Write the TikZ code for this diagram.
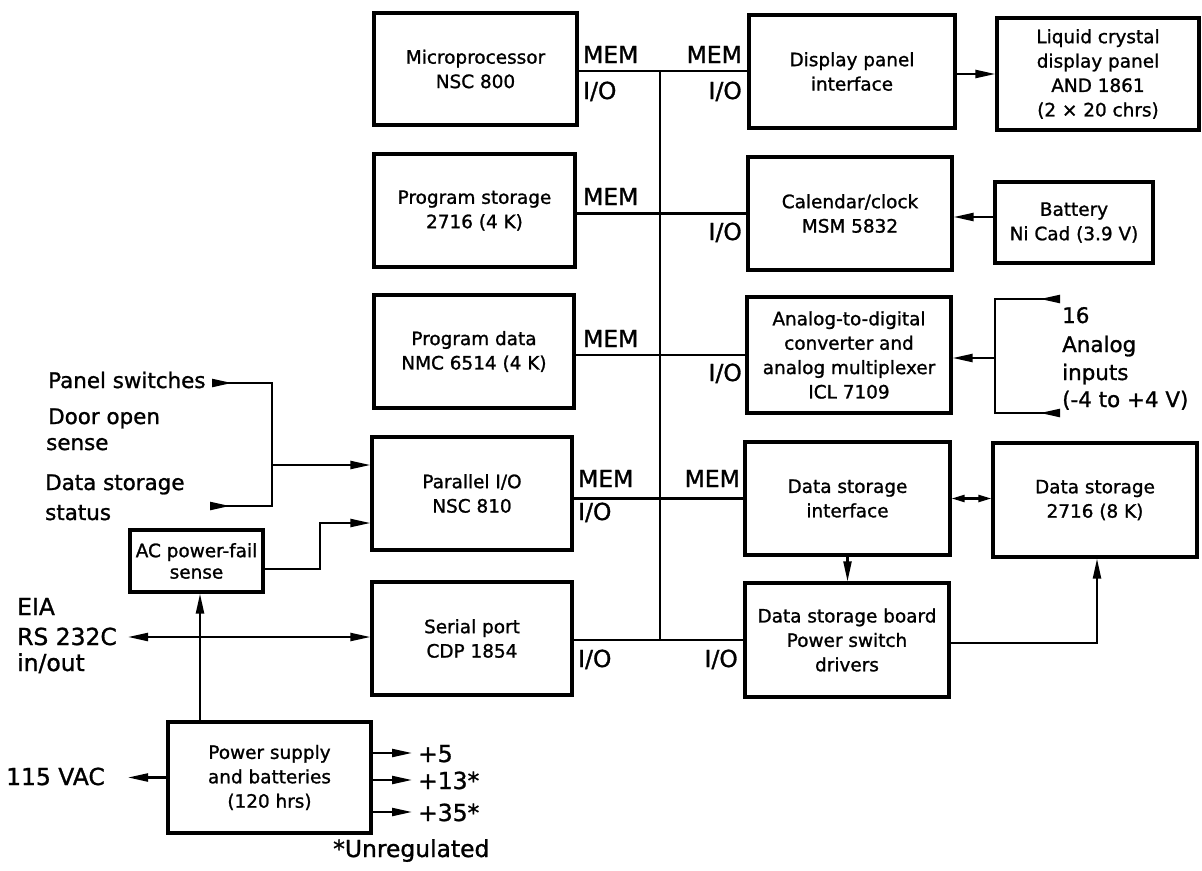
\documentclass[tikz,border=0pt]{standalone}
\usepackage{fontspec}
\setmainfont{DejaVu Sans}[FakeBold=1.2]
\usetikzlibrary{arrows.meta}
\newcommand\boxfont{\fontsize{18.5}{24.5}\selectfont}
\newcommand\labfont{\fontsize{23.5}{26}\selectfont}
\newcommand\bigfont{\fontsize{21.5}{26}\selectfont}
\begin{document}
\begin{tikzpicture}[x=1bp,y=-1bp,
  blk/.style={draw, line width=3.2bp, inner sep=0pt, align=center, font=\boxfont},
  sz/.style 2 args={minimum width=#1bp, minimum height=#2bp},
  wire/.style={line width=2.2bp},
  bus/.style={line width=1.5bp},
  tip/.tip={Triangle[length=20bp,width=8bp]},
  stip/.tip={Triangle[length=13bp,width=7bp]},
  arr/.style={wire, -tip},
  arrr/.style={wire, tip-tip},
  sarrr/.style={wire, stip-stip},
  lab/.style={inner sep=0pt, font=\labfont, anchor=base west},
  labr/.style={inner sep=0pt, font=\labfont, anchor=base east},
  txt/.style={inner sep=0pt, font=\bigfont, anchor=base west}]
\useasboundingbox (0,0) rectangle (1202,871);

% boxes
\node[blk, sz={203}{112}] (mp)  at (475.5,69)   {Microprocessor\\NSC 800};
\node[blk, sz={201}{113}] (ps)  at (474.5,210.5) {Program storage\\2716 (4 K)};
\node[blk, sz={200}{113}] (pd)  at (474,351.5)  {Program data\\NMC 6514 (4 K)};
\node[blk, sz={200}{113}] (pio) at (472,493.5)  {Parallel I/O\\NSC 810};
\node[blk, sz={200}{113}] (sp)  at (472,638.5)  {Serial port\\CDP 1854};
\node[blk, sz={206}{113}] (dpi) at (852,71.5)   {Display panel\\interface};
\node[blk, sz={202}{112}] (lcd) at (1098,74)    {Liquid crystal\\display panel\\AND 1861\\(2 × 20 chrs)};
\node[blk, sz={204}{113}] (cal) at (850,213.5)  {Calendar/clock\\MSM 5832};
\node[blk, sz={158}{81}]  (bat) at (1074,222.5) {Battery\\Ni Cad (3.9 V)};
\node[blk, sz={204}{116}] (adc) at (849,355)    {Analog-to-digital\\converter and\\analog multiplexer\\ICL 7109};
\node[blk, sz={205}{113}] (dsi) at (847.5,498.5) {Data storage\\interface};
\node[blk, sz={204}{114}] (ds)  at (1095,500)   {Data storage\\2716 (8 K)};
\node[blk, sz={204}{114}] (dsb) at (847,640)    {Data storage board\\Power switch\\drivers};
\node[blk, sz={133}{62}, font=\fontsize{18.5}{21.5}\selectfont] (ac) at (196.5,561) {AC power-fail\\sense};
\node[blk, sz={203}{111}] (psu) at (269.5,777.5) {Power supply\\and batteries\\(120 hrs)};

% bus
\coordinate (busT) at (660,71);
\coordinate (busB) at (660,640);
\draw[bus] (busT) -- (busB);
\draw[wire] (mp.east |- busT) -- (dpi.west |- busT);
\draw[wire] (ps.east |- cal.west) -- (cal.west);
\draw[wire] (pd.east |- adc.west) -- (adc.west);
\draw[wire] (pio.east |- dsi.west) -- (dsi.west);
\draw[wire] (sp.east |- dsb.west) -- (dsb.west);

% bus labels
\node[lab]  (m1) at (583,63)  {MEM};
\node[lab]  (i1) at (583,99)  {I/O};
\node[labr] (m2) at (742,63)  {MEM};
\node[labr] (i2) at (742,99)  {I/O};
\node[lab]  (m3) at (583,205) {MEM};
\node[labr] (i3) at (742,240) {I/O};
\node[lab]  (m4) at (583,347) {MEM};
\node[labr] (i4) at (742,381) {I/O};
\node[lab]  (m5) at (578,487) {MEM};
\node[lab]  (i5) at (578,520) {I/O};
\node[labr] (m6) at (740,487) {MEM};
\node[lab]  (i6) at (578,667) {I/O};
\node[labr] (i7) at (738,667) {I/O};

% right side connections
\draw[arr] (dpi.east |- lcd.west) -- (lcd.west);
\draw[arr] ([yshift=5.5bp]bat.west) -- ([yshift=5.5bp]cal.east |- bat.west);
\draw[sarrr] (dsi.east) -- (ds.west |- dsi.east);
\draw[arr] (dsi.south) -- (dsi.south |- dsb.north);
\coordinate (dsx) at (1097,0);
\draw[arr] ([yshift=-3bp]dsb.east) -| (dsx |- ds.south);

% analog inputs
\coordinate (anT) at (1056,299);
\coordinate (anB) at (1056,413);
\coordinate (anJ) at (995,358);
\draw[wire] (anT) -| (anJ) |- (anB);
\draw[arr] (anJ) -- (adc.east |- anJ);
\draw[arr] (anT) -- ++(-16,0);
\draw[arr] (anB) -- ++(-16,0);
\node[txt] (a1) at (1062,323) {16};
\node[txt] (a2) at (1062,352) {Analog};
\node[txt] (a3) at (1062,380) {inputs};
\node[txt] (a4) at (1062,407) {(-4 to +4 V)};

% left inputs
\node[txt] (l1) at (48,388) {Panel switches};
\node[txt] (l2) at (48,424) {Door open};
\node[txt] (l3) at (46,450) {sense};
\node[txt] (l4) at (45,490) {Data storage};
\node[txt] (l5) at (45,520) {status};
\coordinate (psw) at (212,383);
\coordinate (dss) at (210,506);
\coordinate (jn) at (272,465);
\draw[wire] (psw) -| (jn) |- (dss);
\draw[arr] (psw) -- ++(20,0);
\draw[arr] (dss) -- ++(20,0);
\draw[arr] (jn) -- (pio.west |- jn);
\coordinate (acx) at (320,523);
\draw[arr] ([yshift=-8bp]ac.east) -| (acx) -- (pio.west |- acx);

% EIA
\node[txt, font=\labfont] (e1) at (17,615) {EIA};
\node[txt, font=\labfont] (e2) at (17,645) {RS 232C};
\node[txt, font=\labfont] (e3) at (17,671) {in/out};
\coordinate (eia) at (128,637);
\draw[arrr] (eia) -- (sp.west |- eia);
\coordinate (pv) at (200,0);
\draw[arr] (psu.north -| pv) -- (ac.south -| pv);

% power supply
\node[txt, font=\labfont] (v1) at (6,785) {115 VAC};
\coordinate (vac) at (128,777.5);
\draw[arr] (psu.west) -- (vac);
\coordinate (o5) at (412,753);
\coordinate (o13) at (412,780);
\coordinate (o35) at (412,812);
\draw[arr] (psu.east |- o5) -- (o5);
\draw[arr] (psu.east |- o13) -- (o13);
\draw[arr] (psu.east |- o35) -- (o35);
\node[txt, font=\labfont] (p1) at (418,762) {+5};
\node[txt, font=\labfont] (p2) at (418,789) {+13*};
\node[txt, font=\labfont] (p3) at (418,821) {+35*};
\node[txt, font=\labfont] (u1) at (333,857) {*Unregulated};
\end{tikzpicture}
\end{document}
